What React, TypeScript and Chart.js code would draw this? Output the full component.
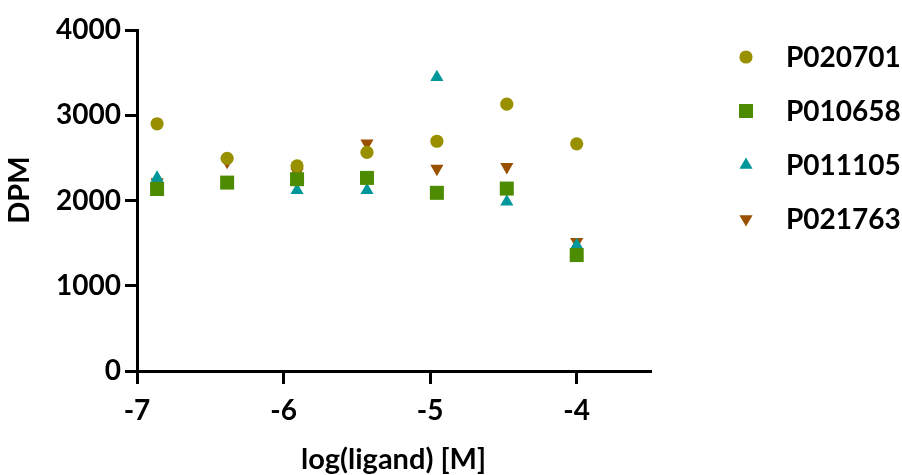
import React, { useEffect, useRef } from 'react';
import { Chart, registerables } from 'chart.js';
import { drawPoint } from 'chart.js/helpers';

Chart.register(...registerables);

// ---- data ----
const xValues = [-6.863, -6.385, -5.908, -5.431, -4.954, -4.477, -4.0];
const seriesNames = ['P020701', 'P010658', 'P011105', 'P021763'];
const p020701 = [2900, 2495, 2405, 2565, 2695, 3130, 2665];
const p010658 = [2135, 2210, 2250, 2265, 2090, 2140, 1360];
const p011105 = [2265, 2200, 2120, 2120, 3445, 1985, 1475];
const p021763 = [2215, 2455, 2330, 2670, 2375, 2395, 1515];
const xTicks = [-7, -6, -5, -4];
const yTicks = [0, 1000, 2000, 3000, 4000];
const xTitle = 'log(ligand) [M]';
const yTitle = 'DPM';

const seriesValues = [p020701, p010658, p011105, p021763];
const colors = ['#999000', '#4d8c00', '#00979a', '#995000'];
const styles = [
  { pointStyle: 'circle', radius: 6.6, rotation: 0 },
  { pointStyle: 'rect', radius: 9.9, rotation: 0 },
  { pointStyle: 'triangle', radius: 7.6, rotation: 0 },
  { pointStyle: 'triangle', radius: 7.6, rotation: 180 },
];

const FONT = 'Lato, "Open Sans", sans-serif';
const fontSize = 28;
const titleSize = 29;

const extrasPlugin = {
  id: 'extras',
  afterDraw(chart: any) {
    const ctx = chart.ctx;
    ctx.save();
    // y title
    ctx.fillStyle = '#000';
    ctx.font = `bold ${titleSize}px ${FONT}`;
    ctx.textAlign = 'center';
    ctx.textBaseline = 'middle';
    ctx.translate(20, 190);
    ctx.rotate(-Math.PI / 2);
    ctx.fillText(yTitle, 0, 0);
    ctx.restore();

    // legend
    ctx.save();
    const rowY = [57, 111, 165, 219];
    seriesNames.forEach((name, i) => {
      const st = styles[i];
      ctx.fillStyle = colors[i];
      ctx.strokeStyle = colors[i];
      drawPoint(ctx, { pointStyle: st.pointStyle as any, rotation: st.rotation, radius: st.radius, borderWidth: 0 }, 746, rowY[i]);
      ctx.fillStyle = '#000';
      ctx.font = `bold ${fontSize}px ${FONT}`;
      ctx.textAlign = 'left';
      ctx.textBaseline = 'middle';
      ctx.fillText(name, 786, rowY[i] + 1);
    });
    ctx.restore();
  },
};

export default function App() {
  const ref = useRef<HTMLCanvasElement | null>(null);
  useEffect(() => {
    let chart: Chart | null = null;
    let cancelled = false;
    const make = () => {
      if (cancelled || !ref.current) return;
      const datasets = seriesNames.map((name, i) => ({
        label: name,
        data: xValues.map((x, j) => ({ x, y: seriesValues[i][j] })),
        showLine: false,
        backgroundColor: colors[i],
        borderColor: colors[i],
        pointStyle: styles[i].pointStyle as any,
        pointRadius: styles[i].radius,
        pointRotation: styles[i].rotation,
        pointBorderWidth: 0,
        pointHoverRadius: styles[i].radius,
      }));
      chart = new Chart(ref.current, {
        type: 'scatter',
        data: { datasets },
        options: {
          animation: false,
          responsive: true,
          maintainAspectRatio: false,
          layout: { padding: { top: 30, right: 252, left: 0, bottom: 0 } },
          plugins: { legend: { display: false }, tooltip: { enabled: false } },
          scales: {
            x: {
              type: 'linear',
              min: -7,
              max: -3.5,
              afterFit: (s: any) => { s.height = 104; },
              afterBuildTicks: (s: any) => { s.ticks = xTicks.map((v) => ({ value: v })); },
              grid: { display: true, drawOnChartArea: false, drawTicks: true, tickLength: 13, lineWidth: 3, color: '#000' },
              border: { display: true, width: 3, color: '#000' },
              ticks: {
                color: '#000',
                font: { family: FONT, size: fontSize, weight: 'bold' },
                padding: 10,
                maxRotation: 0,
                callback: (v: any) => String(v),
              },
              title: {
                display: true,
                text: xTitle,
                color: '#000',
                font: { family: FONT, size: titleSize, weight: 'bold' },
                padding: { top: 0, bottom: -2 },
              },
            },
            y: {
              type: 'linear',
              min: 0,
              max: 4000,
              afterFit: (s: any) => { s.width = 137; },
              afterBuildTicks: (s: any) => { s.ticks = yTicks.map((v) => ({ value: v })); },
              grid: { display: true, drawOnChartArea: false, drawTicks: true, tickLength: 12, lineWidth: 3, color: '#000' },
              border: { display: true, width: 3, color: '#000' },
              ticks: {
                color: '#000',
                font: { family: FONT, size: fontSize, weight: 'bold' },
                padding: 4,
                callback: (v: any) => String(v),
              },
            },
          },
        },
        plugins: [extrasPlugin],
      });
    };
    const fonts: any = (document as any).fonts;
    if (fonts && fonts.load) {
      fonts.load(`bold ${fontSize}px Lato`).then(make, make);
    } else {
      make();
    }
    return () => {
      cancelled = true;
      if (chart) chart.destroy();
    };
  }, []);
  return (
    <div style={{ position: 'absolute', left: 0, top: 0, width: 902, height: 475 }}>
      <canvas ref={ref} />
    </div>
  );
}
